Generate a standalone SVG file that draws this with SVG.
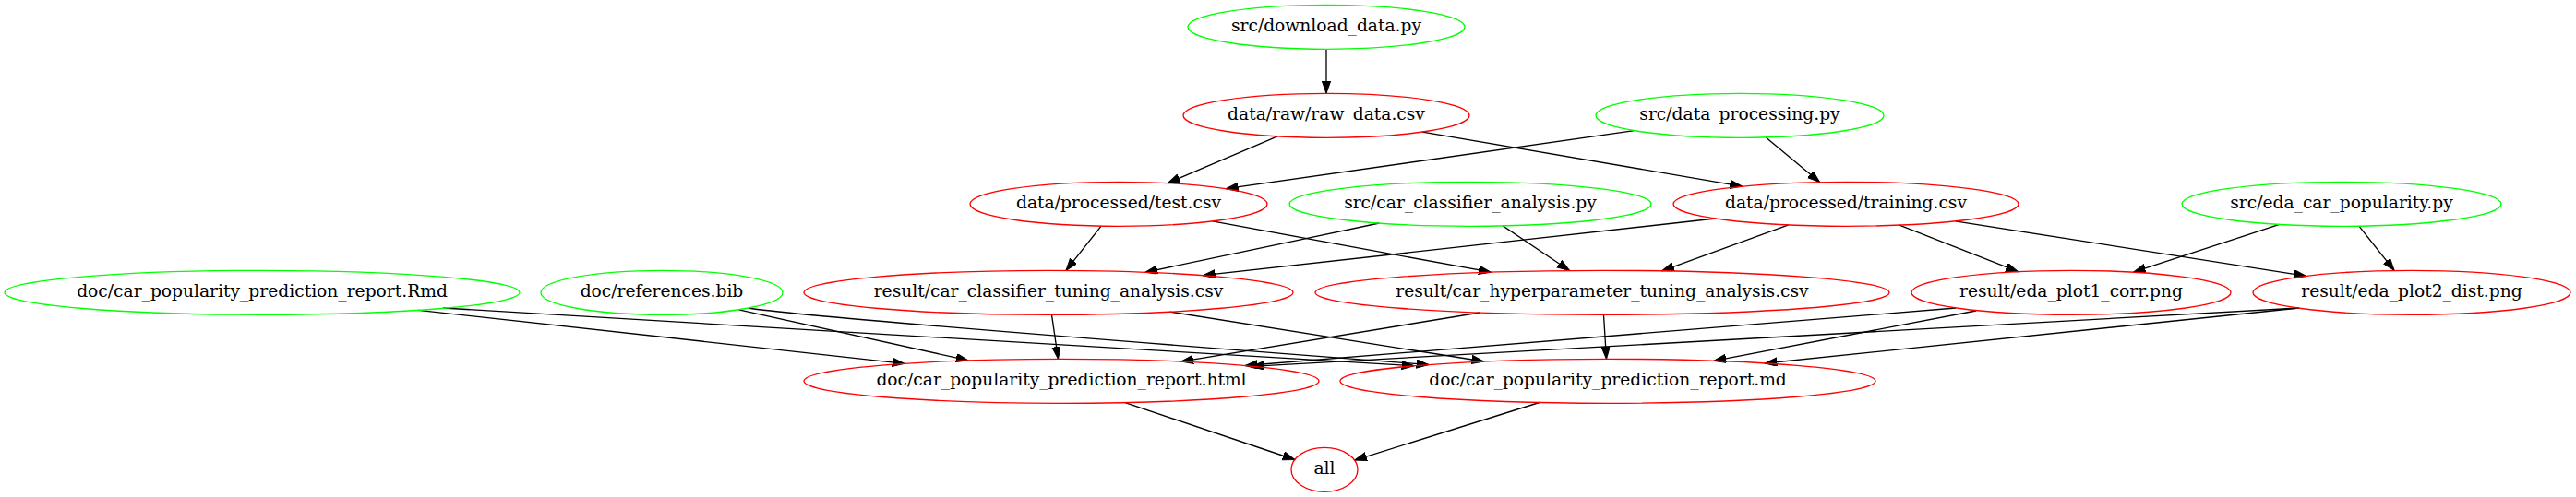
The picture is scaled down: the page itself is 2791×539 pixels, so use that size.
<svg xmlns="http://www.w3.org/2000/svg" width="2791" height="539" viewBox="0 0 2791 539">
<style>
.n ellipse{fill:none;stroke-width:1.33}
.src ellipse{stroke:#00ff00}
.out ellipse{stroke:#ff0000}
.n text{font-family:"DejaVu Serif","Liberation Serif",serif;font-size:18.67px;text-anchor:middle;fill:#000}
#edges path{fill:none;stroke:#000;stroke-width:1.33;marker-end:url(#arr)}
</style>
<defs>
<marker id="arr" markerUnits="userSpaceOnUse" markerWidth="14" markerHeight="10" refX="13.3" refY="4.67" orient="auto">
<path d="M0,0 L13.3,4.67 L0,9.33 z" fill="#000" stroke="#000" stroke-width="1"/>
</marker>
</defs>
<rect width="2791" height="539" fill="#fff"/>
<g id="edges">
<path d="M1437,53.3 L1437,101.3"/>
<path d="M1384.1,147.9 L1265.1,198.6"/>
<path d="M1541.2,143.1 L1887.5,202.1"/>
<path d="M1770.6,141.6 L1328.3,204.7"/>
<path d="M1913.3,148.9 L1971.6,197.6"/>
<path d="M1193.1,245.1 L1155,293.4"/>
<path d="M1313.6,239.9 L1615.3,295.2"/>
<path d="M1494.3,242 L1240.9,295.3"/>
<path d="M1628.2,244.9 L1700.5,293.5"/>
<path d="M1858.6,237 L1303.4,298.7"/>
<path d="M1937.8,243.9 L1800.6,293.8"/>
<path d="M2058,244.1 L2186.5,294.7"/>
<path d="M2118.5,239.9 L2498.6,299.4"/>
<path d="M2469.6,243.4 L2311.4,295.2"/>
<path d="M2555.9,245.2 L2594.1,293.4"/>
<path d="M453,336.3 L980,394.3"/>
<path d="M480,334 L1532,396.7"/>
<path d="M800.4,335.8 L1049.1,390.9"/>
<path d="M811,334 Q870,344 1548,395.5"/>
<path d="M1139.5,341.3 L1146.5,389.3"/>
<path d="M1267.5,338.1 L1607.7,392"/>
<path d="M1603.5,339 L1279.7,392.1"/>
<path d="M1737.5,341.3 L1740.5,389.3"/>
<path d="M2119,334 L1349,396.5"/>
<path d="M2141,337 L1857,391.3"/>
<path d="M2491,334 L1356,397.3"/>
<path d="M2491,334 L1912,394"/>
<path d="M1219,436.6 L1402.9,498.5"/>
<path d="M1667.8,436.5 L1467.6,499.1"/>
</g>
<g id="n_download" class="n src"><ellipse cx="1437" cy="29.3" rx="150" ry="24"/><text x="1437" y="34.3">src/download_data.py</text></g>
<g id="n_raw" class="n out"><ellipse cx="1437" cy="125.3" rx="155" ry="24"/><text x="1437" y="130.3">data/raw/raw_data.csv</text></g>
<g id="n_dataproc" class="n src"><ellipse cx="1885" cy="125.3" rx="156" ry="24"/><text x="1885" y="130.3">src/data_processing.py</text></g>
<g id="n_test" class="n out"><ellipse cx="1212" cy="221.3" rx="161" ry="24"/><text x="1212" y="226.3">data/processed/test.csv</text></g>
<g id="n_clfpy" class="n src"><ellipse cx="1593" cy="221.3" rx="196" ry="24"/><text x="1593" y="226.3">src/car_classifier_analysis.py</text></g>
<g id="n_training" class="n out"><ellipse cx="2000" cy="221.3" rx="187" ry="24"/><text x="2000" y="226.3">data/processed/training.csv</text></g>
<g id="n_edapy" class="n src"><ellipse cx="2537" cy="221.3" rx="173" ry="24"/><text x="2537" y="226.3">src/eda_car_popularity.py</text></g>
<g id="n_rmd" class="n src"><ellipse cx="284" cy="317.3" rx="279" ry="24"/><text x="284" y="322.3">doc/car_popularity_prediction_report.Rmd</text></g>
<g id="n_bib" class="n src"><ellipse cx="717" cy="317.3" rx="131" ry="24"/><text x="717" y="322.3">doc/references.bib</text></g>
<g id="n_clfcsv" class="n out"><ellipse cx="1136" cy="317.3" rx="265" ry="24"/><text x="1136" y="322.3">result/car_classifier_tuning_analysis.csv</text></g>
<g id="n_hyper" class="n out"><ellipse cx="1736" cy="317.3" rx="311" ry="24"/><text x="1736" y="322.3">result/car_hyperparameter_tuning_analysis.csv</text></g>
<g id="n_plot1" class="n out"><ellipse cx="2244" cy="317.3" rx="173" ry="24"/><text x="2244" y="322.3">result/eda_plot1_corr.png</text></g>
<g id="n_plot2" class="n out"><ellipse cx="2613" cy="317.3" rx="172" ry="24"/><text x="2613" y="322.3">result/eda_plot2_dist.png</text></g>
<g id="n_html" class="n out"><ellipse cx="1150" cy="413.3" rx="279" ry="24"/><text x="1150" y="418.3">doc/car_popularity_prediction_report.html</text></g>
<g id="n_md" class="n out"><ellipse cx="1742" cy="413.3" rx="290" ry="24"/><text x="1742" y="418.3">doc/car_popularity_prediction_report.md</text></g>
<g id="n_all" class="n out"><ellipse cx="1435" cy="509.3" rx="36" ry="24"/><text x="1435" y="514.3">all</text></g>
</svg>
